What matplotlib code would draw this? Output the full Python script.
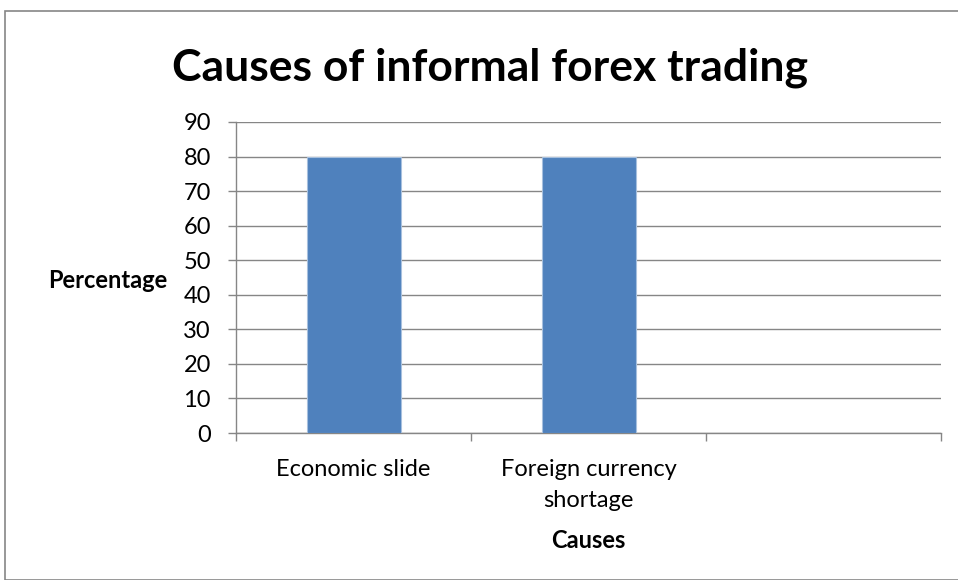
import matplotlib
matplotlib.use("Agg")
import matplotlib.pyplot as plt
import numpy as np
from matplotlib.patches import Rectangle

categories = ["Economic slide", "Foreign currency\nshortage", ""]
values = [80, 80, np.nan]
yticks = [0, 10, 20, 30, 40, 50, 60, 70, 80, 90]

plt.rcParams['font.family'] = ['Lato', 'DejaVu Sans']

W, H = 958, 580
fig = plt.figure(figsize=(W/100, H/100), dpi=100)
ax = fig.add_axes([236/W, 1-433/H, (941-236)/W, (433-122)/H])

x = np.arange(len(categories))
ax.bar(x, values, width=0.4, color="#4F81BD", edgecolor="#A7C0DE", linewidth=0.8, zorder=3)
ax.set_xlim(-0.5, len(categories)-0.5)
ax.set_ylim(0, 90)
ax.set_yticks(yticks)
ax.set_yticklabels([str(v) for v in yticks], fontsize=17)
ax.yaxis.grid(True, color="#868686", linewidth=1.0, zorder=0)
ax.tick_params(axis='y', length=6, width=1, color="#868686", pad=12)

ax.set_xticks(x)
ax.set_xticklabels(categories, fontsize=17, linespacing=1.55)
ax.tick_params(axis='x', length=0, pad=19)
# boundary ticks
ax.set_xticks(np.arange(len(categories)+1)-0.5, minor=True)
ax.tick_params(axis='x', which='minor', length=6, width=1, color="#868686")

for s in ['top', 'right']:
    ax.spines[s].set_visible(False)
for s in ['left', 'bottom']:
    ax.spines[s].set_color("#868686")
    ax.spines[s].set_linewidth(1.0)

fig.text(490/W, 1-68/H, "Causes of informal forex trading", ha='center', va='center',
         fontsize=32, fontweight='bold')
fig.text(108/W, 1-281/H, "Percentage", ha='center', va='center', fontsize=17, fontweight='bold')
fig.text(588/W, 1-541/H, "Causes", ha='center', va='center', fontsize=17, fontweight='bold')

fig.patches.append(Rectangle((5/W, 0), 1, 1-11/H, transform=fig.transFigure,
                             fill=False, edgecolor="#868686", linewidth=1.2))

fig.savefig("out.png", dpi=100)
